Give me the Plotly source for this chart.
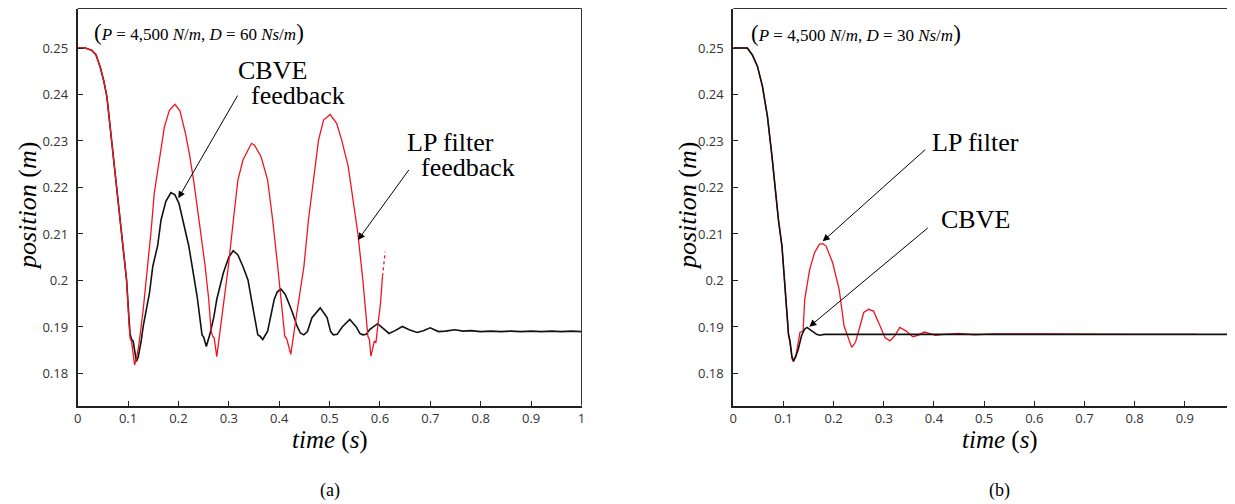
import plotly.graph_objects as go

# ---------------- data: (a) P=4500, D=60 ----------------
a_lp_t = [0, 0.015, 0.028, 0.036, 0.045, 0.052, 0.058, 0.068, 0.081, 0.090, 0.097, 0.102,
          0.104, 0.107, 0.113, 0.117, 0.121, 0.130, 0.139, 0.146, 0.152, 0.162, 0.172, 0.182,
          0.193, 0.203, 0.214, 0.222, 0.230, 0.242, 0.253, 0.260, 0.265, 0.268, 0.271, 0.276,
          0.286, 0.299, 0.309, 0.318, 0.328, 0.345, 0.351, 0.364, 0.377, 0.387, 0.397, 0.406,
          0.411, 0.415, 0.423, 0.433, 0.449, 0.458, 0.468, 0.478, 0.488, 0.501, 0.514, 0.524,
          0.537, 0.547, 0.556, 0.566, 0.5725, 0.576, 0.579, 0.582, 0.589, 0.592, 0.597, 0.601, 0.605]
a_lp_y = [0.2500, 0.2500, 0.2495, 0.2486, 0.2458, 0.2428, 0.2395, 0.2292, 0.2165, 0.2075, 0.2001, 0.1905,
          0.1876, 0.1868, 0.1818, 0.1835, 0.1858, 0.1937, 0.2030, 0.2110, 0.2188, 0.2259, 0.2330, 0.2366,
          0.2379, 0.2365, 0.2316, 0.2270, 0.2216, 0.2120, 0.2030, 0.1960, 0.1890, 0.1880, 0.1876, 0.1836,
          0.1916, 0.2030, 0.2130, 0.2216, 0.2259, 0.2295, 0.2291, 0.2266, 0.2216, 0.2130, 0.2030, 0.1930,
          0.1880, 0.1874, 0.1841, 0.1916, 0.2030, 0.2130, 0.2216, 0.2302, 0.2345, 0.2357, 0.2338, 0.2302,
          0.2245, 0.2173, 0.2102, 0.2001, 0.1930, 0.1880, 0.1873, 0.1837, 0.1870, 0.1866, 0.1915, 0.1950, 0.2009]
a_lp_dot_t = [0.605, 0.6104]
a_lp_dot_y = [0.2009, 0.2062]

a_cb_t = [0, 0.015, 0.028, 0.036, 0.045, 0.052, 0.058, 0.068, 0.081, 0.090, 0.097, 0.102,
          0.104, 0.107, 0.110, 0.1165, 0.120, 0.126, 0.130, 0.1425, 0.149, 0.1587, 0.1654, 0.175,
          0.185, 0.193, 0.201, 0.2207, 0.237, 0.2468, 0.250, 0.2553, 0.263, 0.270, 0.276, 0.289,
          0.300, 0.3087, 0.318, 0.328, 0.338, 0.348, 0.3575, 0.362, 0.3673, 0.377, 0.384, 0.390,
          0.396, 0.4032, 0.412, 0.425, 0.4357, 0.442, 0.4488, 0.456, 0.465, 0.4814, 0.495, 0.502,
          0.5075, 0.515, 0.525, 0.540, 0.553, 0.560, 0.566, 0.5725, 0.580, 0.5954, 0.605, 0.618,
          0.630, 0.6443, 0.658, 0.6736, 0.686, 0.6996, 0.716, 0.730, 0.7485, 0.765, 0.780, 0.800,
          0.820, 0.840, 0.860, 0.880, 0.900, 0.920, 0.940, 0.960, 0.980, 1.000]
a_cb_y = [0.2500, 0.2500, 0.2495, 0.2486, 0.2458, 0.2428, 0.2395, 0.2292, 0.2165, 0.2075, 0.2001, 0.1915,
          0.1885, 0.1873, 0.1870, 0.1826, 0.1835, 0.1870, 0.1901, 0.1973, 0.2030, 0.2075, 0.2130, 0.2170,
          0.2189, 0.2184, 0.2166, 0.2073, 0.1966, 0.1883, 0.1878, 0.1858, 0.1887, 0.1920, 0.1959, 0.2016,
          0.2050, 0.2064, 0.2055, 0.2030, 0.2001, 0.1940, 0.1883, 0.1880, 0.1873, 0.1891, 0.1925, 0.1959,
          0.1975, 0.1982, 0.1970, 0.1935, 0.1901, 0.1887, 0.1883, 0.1890, 0.1920, 0.1941, 0.1920, 0.1890,
          0.1883, 0.1884, 0.1900, 0.1916, 0.1900, 0.1886, 0.1883, 0.1884, 0.1895, 0.1907, 0.1898, 0.1886,
          0.1892, 0.1901, 0.1894, 0.1888, 0.1892, 0.1898, 0.1890, 0.1891, 0.1894, 0.1891, 0.1892, 0.1890,
          0.1891, 0.1890, 0.1891, 0.1890, 0.1891, 0.1890, 0.1891, 0.1890, 0.1891, 0.1890]

# ---------------- data: (b) P=4500, D=30 ----------------
b_lp_t = [0, 0.015, 0.028, 0.038, 0.048, 0.058, 0.068, 0.077, 0.083, 0.090, 0.097, 0.1067,
          0.110, 0.113, 0.117, 0.120, 0.125, 0.1295, 0.1327, 0.139, 0.1425, 0.149, 0.1523, 0.162,
          0.1718, 0.1785, 0.185, 0.198, 0.211, 0.2208, 0.2274, 0.236, 0.2436, 0.2501, 0.260, 0.2697,
          0.2795, 0.2926, 0.3023, 0.3121, 0.3219, 0.3317, 0.3448, 0.3577, 0.368, 0.3806, 0.392, 0.4035,
          0.42, 0.45, 0.48, 0.52, 0.60, 0.70, 0.80, 0.925]
b_lp_y = [0.2500, 0.2500, 0.2500, 0.2485, 0.2461, 0.2418, 0.2353, 0.2268, 0.2200, 0.2130, 0.2074, 0.1931,
          0.1884, 0.1865, 0.1832, 0.1825, 0.1840, 0.1867, 0.1888, 0.1891, 0.1960, 0.2003, 0.2024, 0.2060,
          0.2078, 0.2079, 0.2074, 0.2038, 0.1981, 0.1902, 0.1881, 0.1856, 0.1867, 0.1895, 0.1931, 0.1938,
          0.1934, 0.1902, 0.1877, 0.1870, 0.1881, 0.1899, 0.1891, 0.1879, 0.1882, 0.1889, 0.1886, 0.1882,
          0.1884, 0.1886, 0.1883, 0.1885, 0.1885, 0.1884, 0.1884, 0.1884]

b_cb_t = [0, 0.015, 0.028, 0.038, 0.048, 0.058, 0.068, 0.077, 0.083, 0.090, 0.097, 0.1067,
          0.110, 0.113, 0.117, 0.120, 0.124, 0.1295, 0.136, 0.142, 0.147, 0.153, 0.159, 0.166,
          0.172, 0.1816, 0.25, 0.50, 0.75, 1.00]
b_cb_y = [0.2500, 0.2500, 0.2500, 0.2485, 0.2461, 0.2418, 0.2353, 0.2268, 0.2200, 0.2130, 0.2074, 0.1931,
          0.1884, 0.1870, 0.1835, 0.1827, 0.1835, 0.1852, 0.1881, 0.1895, 0.1899, 0.1894, 0.1889, 0.1884,
          0.1882, 0.1884, 0.1884, 0.1884, 0.1884, 0.1884]

x_ticks = [0, 0.1, 0.2, 0.3, 0.4, 0.5, 0.6, 0.7, 0.8, 0.9, 1]
y_ticks = [0.18, 0.19, 0.20, 0.21, 0.22, 0.23, 0.24, 0.25]
y_tick_text = ["0.18", "0.19", "0.2", "0.21", "0.22", "0.23", "0.24", "0.25"]

RED = "#f0141e"
BLACK = "#111111"

fig = go.Figure()
# (a): black below, red on top
fig.add_trace(go.Scatter(x=a_cb_t, y=a_cb_y, mode="lines", line=dict(color=BLACK, width=1.6),
                         xaxis="x", yaxis="y", showlegend=False))
fig.add_trace(go.Scatter(x=a_lp_t, y=a_lp_y, mode="lines", line=dict(color=RED, width=1.3),
                         xaxis="x", yaxis="y", showlegend=False))
fig.add_trace(go.Scatter(x=a_lp_dot_t, y=a_lp_dot_y, mode="lines",
                         line=dict(color=RED, width=1.3, dash="dot"),
                         xaxis="x", yaxis="y", showlegend=False))
# (b): red below, black on top
fig.add_trace(go.Scatter(x=b_lp_t, y=b_lp_y, mode="lines", line=dict(color=RED, width=1.3),
                         xaxis="x2", yaxis="y2", showlegend=False))
fig.add_trace(go.Scatter(x=b_cb_t, y=b_cb_y, mode="lines", line=dict(color=BLACK, width=1.6),
                         xaxis="x2", yaxis="y2", showlegend=False))

# The page body has an 8px margin, so the figure is made 8px smaller and
# every position is measured from the window corner minus that offset.
OFF = 8
W, H = 1235 - OFF, 504 - OFF
def PX(px):
    return (px - OFF) / W
def PY(py):
    return 1 - (py - OFF) / H

ydom = [PY(405.5), PY(8.5)]
yr = [0.1731, 0.2585]
tickfont = dict(family="Open Sans", size=13, color="#333333")
axis_common = dict(showline=True, linecolor="#222222", linewidth=2, mirror=False,
                   ticks="inside", ticklen=5, tickwidth=1, tickcolor="#222222",
                   showgrid=False, zeroline=False, tickfont=tickfont, automargin=False)

fig.update_layout(
    width=W, height=H,
    margin=dict(l=0, r=0, t=0, b=0, autoexpand=False),
    paper_bgcolor="white", plot_bgcolor="white",
    xaxis=dict(domain=[PX(77.7), PX(581.5)], range=[0, 1], tickvals=x_ticks,
               anchor="y", ticklabelstandoff=0, **axis_common),
    yaxis=dict(domain=ydom, range=yr, tickvals=y_ticks, ticktext=y_tick_text,
               anchor="x", ticklabelstandoff=5, **axis_common),
    xaxis2=dict(domain=[PX(733.3), 1.0], range=[0, 1], tickvals=x_ticks,
                anchor="y2", ticklabelstandoff=0, **axis_common),
    yaxis2=dict(domain=ydom, range=yr, tickvals=y_ticks, ticktext=y_tick_text,
                anchor="x2", ticklabelstandoff=5, **axis_common),
)

# thin top / right frame lines
for xr, yrf in (("x domain", "y domain"), ("x2 domain", "y2 domain")):
    fig.add_shape(type="line", xref=xr, yref=yrf, x0=0, x1=1, y0=1, y1=1,
                  line=dict(color="#333333", width=1))
    fig.add_shape(type="line", xref=xr, yref=yrf, x0=1, x1=1, y0=0, y1=1,
                  line=dict(color="#333333", width=1))

SERIF = "Liberation Serif"

def txt(px, py, text, size, angle=0):
    fig.add_annotation(x=PX(px), y=PY(py), xref="paper", yref="paper", text=text,
                       showarrow=False, xanchor="center", yanchor="middle", textangle=angle,
                       font=dict(family=SERIF, size=size, color="black"))

def arrow(tx, ty, hx, hy):
    fig.add_annotation(x=PX(hx), y=PY(hy), xref="paper", yref="paper", text="",
                       showarrow=True, ax=tx - hx, ay=ty - hy, axref="pixel", ayref="pixel",
                       arrowhead=2, arrowsize=1.4, arrowwidth=1, arrowcolor="black",
                       standoff=0, startstandoff=0)

big = "<span style='font-size:23px'>(</span>"
bigc = "<span style='font-size:23px'>)</span>"
param_a = big + "<i>P</i> = 4,500 <i>N</i>/<i>m</i>, <i>D</i> = 60 <i>Ns</i>/<i>m</i>" + bigc
param_b = big + "<i>P</i> = 4,500 <i>N</i>/<i>m</i>, <i>D</i> = 30 <i>Ns</i>/<i>m</i>" + bigc
txt(198.5, 32.5, param_a, 17)
txt(856, 34, param_b, 17)

# labels on (a)
txt(272, 71, "CBVE", 26)
txt(297.5, 95, "feedback", 26)
txt(450, 142, "LP filter", 26)
txt(468, 168, "feedback", 26)
arrow(238.5, 94, 178.3, 198.3)
arrow(410, 168.3, 358, 240)

# labels on (b)
txt(975, 142, "LP filter", 26)
txt(975, 219.5, "CBVE", 26)
arrow(926.7, 148.3, 822.7, 241.3)
arrow(929.3, 226.7, 809.3, 326.7)

# axis titles and panel labels
txt(27, 206, "<i>position</i> (<i>m</i>)", 26, angle=-90)
txt(687, 206, "<i>position</i> (<i>m</i>)", 26, angle=-90)
txt(329.5, 440, "<i>time</i> (<i>s</i>)", 25)
txt(1000, 440, "<i>time</i> (<i>s</i>)", 25)
txt(329.5, 490, "(a)", 18)
txt(1000, 490, "(b)", 18)

fig.write_html("out.html")
